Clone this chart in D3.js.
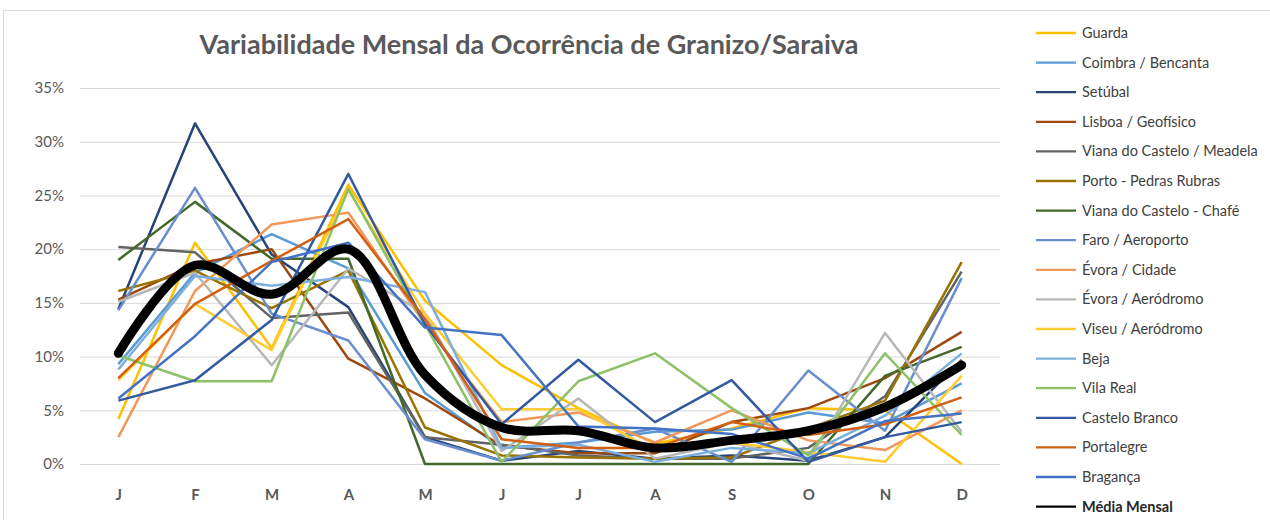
<!DOCTYPE html>
<html>
<head>
<meta charset="utf-8">
<script src="https://cdn.jsdelivr.net/npm/d3@7"></script>
<style>
  body { margin: 0; background: #fff; }
  text { font-family: Lato, "Open Sans", sans-serif; }
</style>
</head>
<body>
<script>
// monthly hail frequency (%) per station
const months = ["J", "F", "M", "A", "M", "J", "J", "A", "S", "O", "N", "D"];
const yTicks = [0, 5, 10, 15, 20, 25, 30, 35];

const stations = [
  "Guarda", "Coimbra / Bencanta", "Setúbal", "Lisboa / Geofísico",
  "Viana do Castelo / Meadela", "Porto - Pedras Rubras", "Viana do Castelo - Chafé",
  "Faro / Aeroporto", "Évora / Cidade", "Évora / Aeródromo", "Viseu / Aeródromo",
  "Beja", "Vila Real", "Castelo Branco", "Portalegre", "Bragança"
];

const guarda        = [4.2, 20.6, 10.8, 26.0, 15.2, 9.2, 5.2, 1.9, 3.3, 5.2, 5.0, 0.0];
const coimbra       = [9.3, 17.8, 21.4, 18.2, 6.6, 1.5, 2.0, 3.0, 3.2, 4.8, 3.8, 7.5];
const setubal       = [14.4, 31.7, 19.5, 14.6, 2.5, 0.3, 1.2, 0.5, 0.8, 0.3, 2.5, 9.7];
const lisboa        = [15.3, 18.6, 20.0, 9.8, 6.1, 1.7, 1.0, 1.0, 3.9, 5.2, 8.0, 12.3];
const vianaMeadela  = [20.2, 19.7, 13.6, 14.1, 2.5, 1.8, 0.8, 0.5, 0.5, 1.5, 6.3, 17.9];
const porto         = [16.1, 18.0, 14.5, 18.0, 3.4, 0.8, 0.6, 0.5, 0.6, 3.3, 5.9, 18.8];
const vianaChafe    = [19.0, 24.4, 19.1, 19.1, 0.0, 0.0, 0.0, 0.0, 0.0, 0.0, 8.2, 10.9];
const faro          = [14.3, 25.7, 14.0, 11.5, 2.3, 0.3, 2.0, 3.3, 0.2, 8.7, 3.1, 17.3];
const evoraCidade   = [2.5, 16.1, 22.3, 23.4, 13.0, 3.9, 4.8, 2.0, 5.0, 2.2, 1.3, 5.0];
const evoraAero     = [15.1, 17.8, 9.2, 18.2, 14.0, 1.2, 6.1, 0.5, 2.0, 0.3, 12.2, 3.0];
const viseu         = [7.8, 14.9, 10.6, 25.5, 14.0, 5.1, 5.1, 1.2, 2.0, 1.1, 0.2, 8.2];
const beja          = [8.8, 17.5, 16.6, 17.4, 16.0, 1.5, 1.8, 0.2, 1.5, 1.0, 4.5, 10.3];
const vilaReal      = [10.1, 7.7, 7.7, 25.6, 13.0, 0.2, 7.7, 10.3, 5.2, 0.8, 10.3, 2.7];
const casteloBranco = [5.9, 7.8, 13.4, 27.0, 13.0, 3.7, 9.7, 3.9, 7.8, 0.2, 2.5, 3.9];
const portalegre    = [8.0, 14.9, 18.9, 22.8, 13.5, 2.3, 1.5, 1.5, 3.9, 2.7, 3.7, 6.2];
const braganca      = [6.1, 11.9, 18.8, 20.6, 12.7, 12.0, 3.5, 3.3, 2.8, 0.5, 4.0, 4.7];

const mediaMensal   = [10.3, 18.5, 15.8, 20.0, 8.3, 3.4, 3.1, 1.5, 2.2, 3.1, 5.3, 9.2];

const seriesValues = [
  guarda, coimbra, setubal, lisboa, vianaMeadela, porto, vianaChafe, faro,
  evoraCidade, evoraAero, viseu, beja, vilaReal, casteloBranco, portalegre, braganca
];

// Excel-ish palette, one per station
const colors = [
  "#FFC000", "#5B9BD5", "#264478", "#9E480E", "#636363", "#997300", "#43682B", "#698ED0",
  "#F1975A", "#B7B7B7", "#FFCD33", "#7CAFDD", "#8CC168", "#335AA1", "#D26012", "#4472C4"
];

let margin = null, width = null, height = null;
let svg = null, root = null;
let x, y = null;

setupCanvasSize();
appendSvg("body");
setupXScale();
setupYScale();
appendYAxis();
appendXAxis();
appendTitle();
appendLines();
appendLegend();

function setupCanvasSize() {
  margin = {top: 88, left: 80, bottom: 56, right: 270};
  width = 1270 - margin.left - margin.right;
  height = 520 - margin.top - margin.bottom;
}

function appendSvg(domElement) {
  root = d3.select(domElement).append("svg")
    .attr("width", 1270)
    .attr("height", 520);

  // chart area border
  root.append("rect")
    .attr("x", 3.5).attr("y", 10.5)
    .attr("width", 1300).attr("height", 600)
    .attr("fill", "none")
    .attr("stroke", "#d9d9d9");

  svg = root.append("g")
    .attr("transform", `translate(${margin.left}, ${margin.top})`);
}

function setupXScale() {
  x = d3.scalePoint()
    .domain(d3.range(months.length))
    .range([0, width])
    .padding(0.5);
}

function setupYScale() {
  y = d3.scaleLinear()
    .domain([0, 35])
    .range([height, 0]);
}

function appendYAxis() {
  const g = svg.append("g")
    .call(d3.axisLeft(y)
      .tickValues(yTicks)
      .tickSize(-width)
      .tickFormat(d => d + "%"));
  g.select(".domain").remove();
  g.selectAll(".tick line").attr("stroke", "#d9d9d9").attr("stroke-width", 1);
  g.selectAll(".tick text")
    .attr("x", -16)
    .attr("fill", "#595959")
    .style("font-size", "15px");
}

function appendXAxis() {
  const g = svg.append("g")
    .attr("transform", `translate(0, ${height})`)
    .call(d3.axisBottom(x)
      .tickSize(0)
      .tickFormat(i => months[i]));
  g.select(".domain").remove();
  g.selectAll(".tick text")
    .attr("y", 25)
    .attr("fill", "#595959")
    .style("font-size", "15px")
    .style("font-weight", "bold");
}

function appendTitle() {
  root.append("text")
    .attr("x", 529)
    .attr("y", 54)
    .attr("text-anchor", "middle")
    .attr("fill", "#595959")
    .style("font-size", "27px")
    .style("font-weight", "bold")
    .text("Variabilidade Mensal da Ocorrência de Granizo/Saraiva");
}

function appendLines() {
  const line = d3.line()
    .x((d, i) => x(i))
    .y(d => y(d));

  svg.selectAll(".station")
    .data(seriesValues)
    .enter()
    .append("path")
    .attr("class", "station")
    .attr("fill", "none")
    .attr("stroke", (d, i) => colors[i])
    .attr("stroke-width", 2.5)
    .attr("stroke-linejoin", "round")
    .attr("d", line);

  const smooth = d3.line()
    .x((d, i) => x(i))
    .y(d => y(d))
    .curve(d3.curveCatmullRom.alpha(0.5));

  svg.append("path")
    .datum(mediaMensal)
    .attr("fill", "none")
    .attr("stroke", "#000")
    .attr("stroke-width", 9)
    .attr("stroke-linecap", "round")
    .attr("d", smooth);
}

function appendLegend() {
  const names = stations.concat(["Média Mensal"]);
  const legendColors = colors.concat(["#000"]);

  const legend = root.selectAll(".legend")
    .data(names)
    .enter()
    .append("g")
    .attr("class", "legend")
    .attr("transform", (d, i) => `translate(1036, ${33 + i * 29.6})`);

  legend.append("line")
    .attr("x1", 0).attr("x2", 40)
    .attr("stroke", (d, i) => legendColors[i])
    .attr("stroke-width", 2.3);

  legend.append("text")
    .attr("x", 46)
    .attr("dy", "0.35em")
    .attr("fill", (d, i) => i === names.length - 1 ? "#262626" : "#404040")
    .style("font-size", "14.5px")
    .style("font-weight", (d, i) => i === names.length - 1 ? "bold" : "normal")
    .text(d => d);
}
</script>
</body>
</html>
